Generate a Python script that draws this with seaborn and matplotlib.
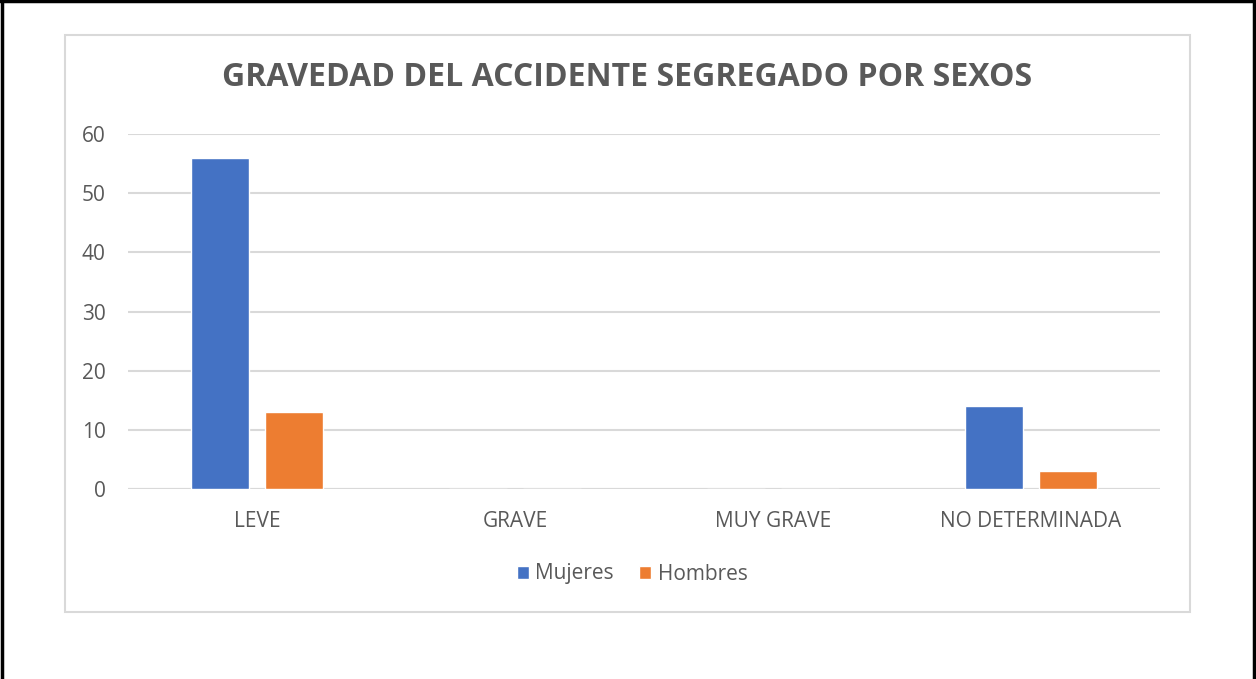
"""
Gravedad del accidente segregado por sexos - bar chart.
"""

import matplotlib.pyplot as plt
import seaborn as sns
import pandas as pd
from matplotlib.patches import Rectangle
from matplotlib.lines import Line2D

categorias = ["LEVE", "GRAVE", "MUY GRAVE", "NO DETERMINADA"]
mujeres = [56, 0, 0, 14]
hombres = [13, 0, 0, 3]
series = ["Mujeres", "Hombres"]
yticks = [0, 10, 20, 30, 40, 50, 60]

df = pd.DataFrame({
    "categoria": categorias * 2,
    "valor": mujeres + hombres,
    "sexo": [series[0]] * len(categorias) + [series[1]] * len(categorias),
})

sns.set_style("white")
plt.rcParams['font.family'] = ['Open Sans', 'DejaVu Sans']

gray = "#595959"
grid = "#d9d9d9"

fig = plt.figure(figsize=(12.56, 6.79), dpi=100)

# outer black frame and inner chart frame
fig.add_artist(Line2D([0.0015, 0.0015], [0, 1], color="black", lw=2.5))
fig.add_artist(Line2D([0, 1], [0.998, 0.998], color="black", lw=2.5))
fig.add_artist(Line2D([0.9985, 0.9985], [0, 1], color="black", lw=2.5))
fig.add_artist(Rectangle((65 / 1256, 1 - 612 / 679), 1125 / 1256, 577 / 679,
                         fill=False, edgecolor=grid, lw=1.5))

ax = fig.add_axes([128 / 1256, 1 - 489 / 679, 1032 / 1256, 355 / 679])
sns.barplot(data=df, x="categoria", y="valor", hue="sexo",
            palette=["#4472C4", "#ED7D31"], saturation=1,
            width=0.573, gap=0.215, ax=ax, zorder=3)

ax.set_ylim(0, 60)
ax.set_xlim(-0.5, 3.5)
ax.set_yticks(yticks)
ax.yaxis.grid(True, color=grid, lw=1.5, zorder=0)
ax.set_axisbelow(True)
for s in ax.spines.values():
    s.set_visible(False)
ax.axhline(0, color=grid, lw=1.5, zorder=1)
ax.set_xlabel("")
ax.set_ylabel("")
ax.tick_params(axis="both", length=0, labelsize=15, colors=gray)
ax.tick_params(axis="y", pad=16)
ax.tick_params(axis="x", pad=16)

fig.text(627 / 1256, 1 - 78 / 679, "GRAVEDAD DEL ACCIDENTE SEGREGADO POR SEXOS",
         ha="center", va="center", fontsize=23, fontweight="bold", color=gray)

ax.legend(loc="center", bbox_to_anchor=(632 / 1256, 1 - 574 / 679),
          bbox_transform=fig.transFigure, ncol=2, frameon=False,
          fontsize=15, labelcolor=gray, handlelength=0.6, handleheight=0.6,
          handletextpad=0.3, columnspacing=1.2)

plt.savefig("out.png", dpi=100)
